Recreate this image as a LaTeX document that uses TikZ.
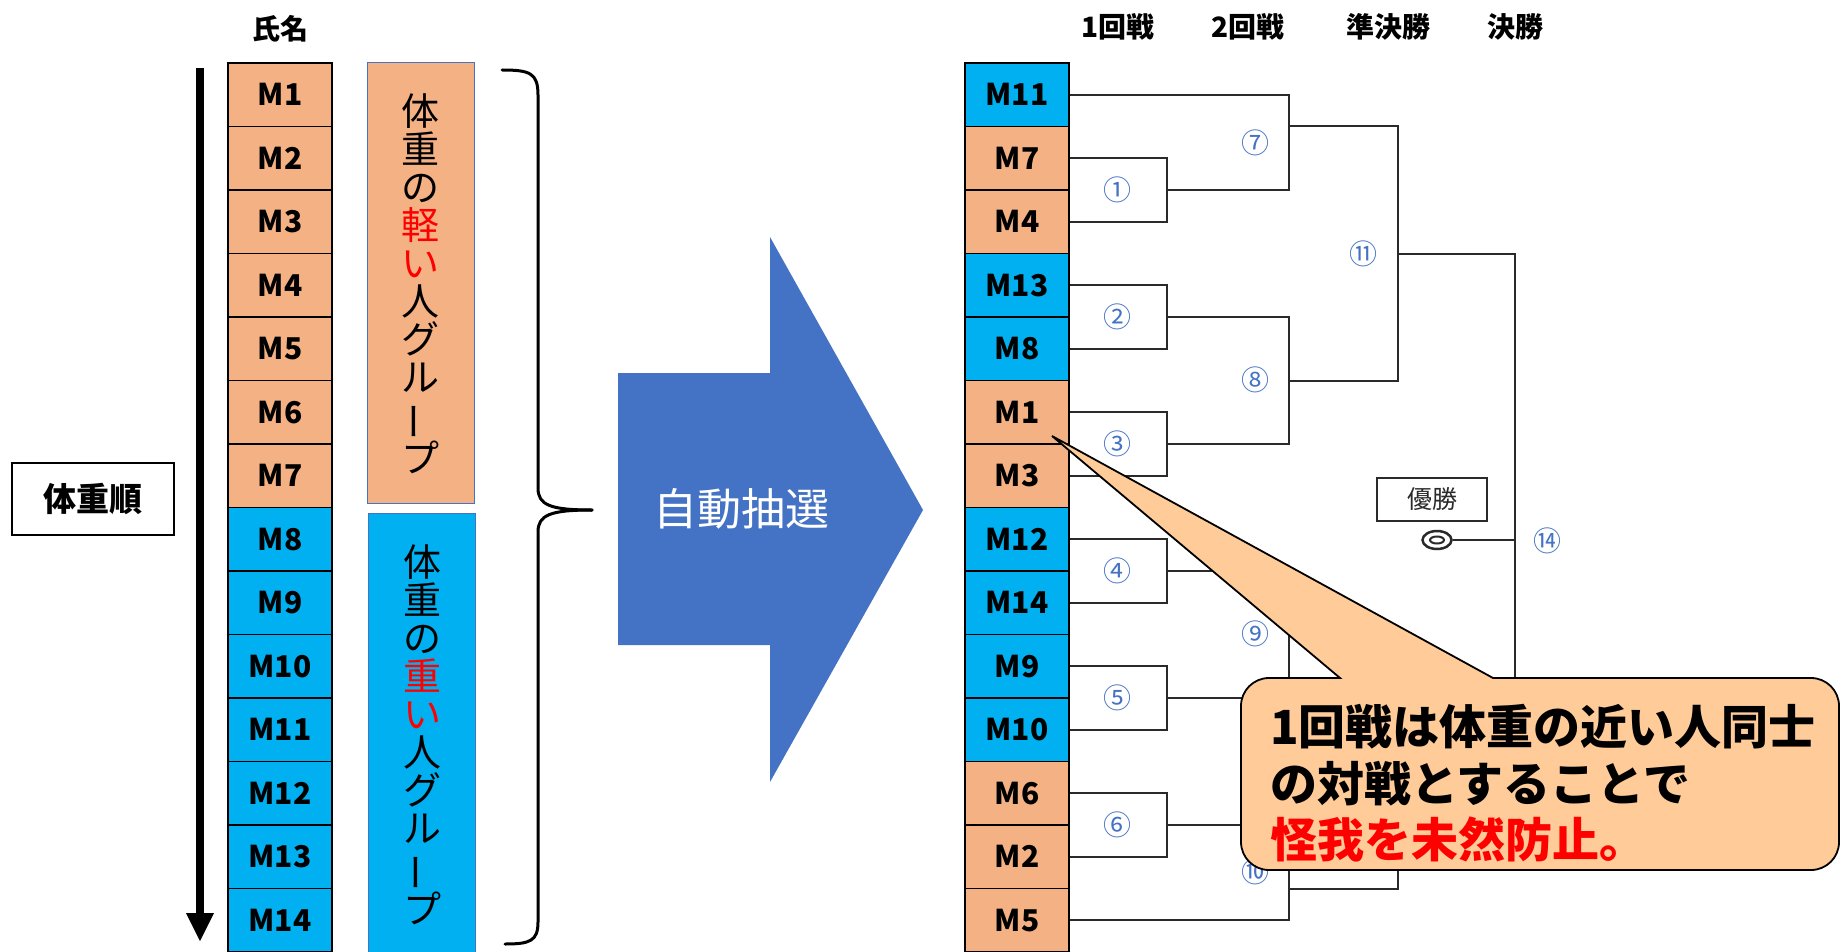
\documentclass[tikz,border=0pt]{standalone}
\usepackage{fontspec}
\usepackage{graphicx}
\usetikzlibrary{shapes.geometric}
\setmainfont{Noto Sans CJK JP}
\definecolor{morange}{HTML}{F4B183}
\definecolor{mblue}{HTML}{00B0F0}
\definecolor{oblue}{HTML}{4472C4}
\definecolor{callfill}{HTML}{FFCC99}
\definecolor{lnc}{HTML}{2A2A2A}
\definecolor{myred}{HTML}{FF0000}
\newcommand{\fsz}[1]{\fontsize{#1}{#1}\selectfont}
\begin{document}
\begin{tikzpicture}[x=1pt,y=1pt,
  mbox/.style={draw=black, line width=1.6pt, minimum width=104pt, minimum height=63.5pt, inner sep=0pt, font=\fsz{30}\bfseries},
  hdr/.style={font=\fsz{28}\bfseries, inner sep=0pt},
  cnum/.style={text=oblue, font=\fsz{28}, inner sep=0pt},
  brk/.style={draw=lnc, line width=2pt},
  grp/.style={draw=oblue, line width=1pt},
  vtext/.style={font=\fsz{38}, align=center, inner sep=0pt},
  calltext/.style={font=\fsz{47}\bfseries, anchor=base west, inner sep=0pt}]
\useasboundingbox (0,0) rectangle (1841,-952);
\clip (0,0) rectangle (1841,-952);
\fill[white] (0,0) rectangle (1841,-952);

% headers
\node[hdr] (hname) at (280,-29) {氏名};
\node[hdr] (h1) at (1118,-27) {1回戦};
\node[hdr] (h2) at (1248,-27) {2回戦};
\node[hdr] (h3) at (1388,-27) {準決勝};
\node[hdr] (h4) at (1515,-27) {決勝};

% weight order label and arrow
\node[draw=black, line width=1.8pt, minimum width=162pt, minimum height=72pt, inner sep=0pt, font=\fsz{33}\bfseries] (order) at (93,-499) {体重順};
\coordinate (atop) at (200,-68);
\coordinate (abot) at (200,-915);
\draw[line width=8pt] (atop) -- (abot);
\fill (186,-913) -- (214,-913) -- (200,-941) -- cycle;

% left column
\foreach \lab [count=\i] in {M1,M2,M3,M4,M5,M6,M7,M8,M9,M10,M11,M12,M13,M14}{
  \ifnum\i<8 \def\col{morange}\else \def\col{mblue}\fi
  \node[mbox, fill=\col] (L\i) at (280,{-63-(\i-0.5)*63.5}) {\lab};
}

% group boxes
\fill[morange] (367,-63) rectangle (474,-503);
\draw[grp] (367,-63) rectangle (474,-503);
\fill[mblue] (368,-513) rectangle (475,-960);
\draw[grp] (368,-513) rectangle (475,-960);
\node[vtext] (vt1) at (420,-284) {体\\重\\の\\\textcolor{myred}{軽}\\\textcolor{myred}{い}\\人\\グ\\ル\\\rotatebox[origin=c]{90}{ー}\\プ};
\node[vtext] (vt2) at (422,-735) {体\\重\\の\\\textcolor{myred}{重}\\\textcolor{myred}{い}\\人\\グ\\ル\\\rotatebox[origin=c]{90}{ー}\\プ};

% brace
\draw[line width=3pt, line cap=round]
  (502,-70) .. controls (530,-70) and (538,-73) .. (538,-95)
  -- (538,-488) .. controls (538,-505) and (550,-510) .. (592,-510);
\draw[line width=3pt, line cap=round]
  (592,-510) .. controls (550,-510) and (538,-515) .. (538,-532)
  -- (538,-922) .. controls (538,-941) and (530,-944) .. (505,-944);

% big arrow
\fill[oblue] (618,-373) -- (770,-373) -- (770,-237) -- (923,-510) -- (770,-782) -- (770,-645) -- (618,-645) -- cycle;
\node[text=white, font=\fsz{44}, inner sep=0pt] (draw) at (741,-509) {自動抽選};

% right column
\foreach \lab/\col [count=\i] in {M11/mblue,M7/morange,M4/morange,M13/mblue,M8/mblue,M1/morange,M3/morange,M12/mblue,M14/mblue,M9/mblue,M10/mblue,M6/morange,M2/morange,M5/morange}{
  \node[mbox, fill=\col] (R\i) at (1017,{-63-(\i-0.5)*63.5}) {\lab};
}

% bracket junctions
\coordinate (q1) at (1167,-190);
\coordinate (q2) at (1167,-317);
\coordinate (q3) at (1167,-444);
\coordinate (q4) at (1167,-571);
\coordinate (q5) at (1167,-698);
\coordinate (q6) at (1167,-825);
\coordinate (q7) at (1289,-126.5);
\coordinate (q8) at (1289,-380.5);
\coordinate (q9) at (1289,-634.5);
\coordinate (q10) at (1289,-888.5);
\coordinate (q11) at (1398,-253.5);
\coordinate (q12) at (1398,-761.5);
\coordinate (q14) at (1515,-540);

\draw[brk] (R2.east) -| (q1) |- (R3.east);
\draw[brk] (R4.east) -| (q2) |- (R5.east);
\draw[brk] (R6.east) -| (q3) |- (R7.east);
\draw[brk] (R8.east) -| (q4) |- (R9.east);
\draw[brk] (R10.east) -| (q5) |- (R11.east);
\draw[brk] (R12.east) -| (q6) |- (R13.east);
\draw[brk] (R1.east) -| (q7) |- (q1);
\draw[brk] (q2) -| (q8) |- (q3);
\draw[brk] (q4) -| (q9) |- (q5);
\draw[brk] (q6) -| (q10) |- (R14.east);
\draw[brk] (q7) -| (q11) |- (q8);
\draw[brk] (q9) -| (q12) |- (q10);
\draw[brk] (q11) -| (q14) |- (q12);

% match numbers
\node[cnum] (n1) at (1117,-190) {①};
\node[cnum] (n2) at (1117,-317) {②};
\node[cnum] (n3) at (1117,-444) {③};
\node[cnum] (n4) at (1117,-571) {④};
\node[cnum] (n5) at (1117,-698) {⑤};
\node[cnum] (n6) at (1117,-825) {⑥};
\node[cnum] (n7) at (1255,-143) {⑦};
\node[cnum] (n8) at (1255,-380) {⑧};
\node[cnum] (n9) at (1255,-634) {⑨};
\node[cnum] (n10) at (1255,-872) {⑩};
\node[cnum] (n11) at (1363,-254) {⑪};
\node[cnum] (n14) at (1547,-541) {⑭};

% champion
\node[draw=lnc, line width=1.8pt, minimum width=110pt, minimum height=43pt, inner sep=0pt, font=\fsz{25}, text=lnc] (champ) at (1432,-499.5) {優勝};
\node[draw=lnc, line width=2.5pt, ellipse, minimum width=29pt, minimum height=18pt, inner sep=0pt] (ring) at (1437,-540) {};
\draw[lnc, line width=2pt] (1437,-540) ellipse [x radius=7pt, y radius=3.5pt];
\draw[brk] (q14) -- (ring.east);

% callout
\filldraw[fill=callfill, draw=black, line width=1.8pt, line join=miter]
  (1241,-706) arc[start angle=180, end angle=90, radius=28]
  -- (1340,-678) -- (1052,-436) -- (1493,-678)
  -- (1811,-678) arc[start angle=90, end angle=0, radius=28]
  -- (1839,-842) arc[start angle=0, end angle=-90, radius=28]
  -- (1269,-870) arc[start angle=270, end angle=180, radius=28]
  -- cycle;
\node[calltext] (c1) at (1270,-744) {1回戦は体重の近い人同士};
\node[calltext] (c2) at (1270,-801) {の対戦とすることで};
\node[calltext, text=myred] (c3) at (1270,-857) {怪我を未然防止。};
\end{tikzpicture}
\end{document}
